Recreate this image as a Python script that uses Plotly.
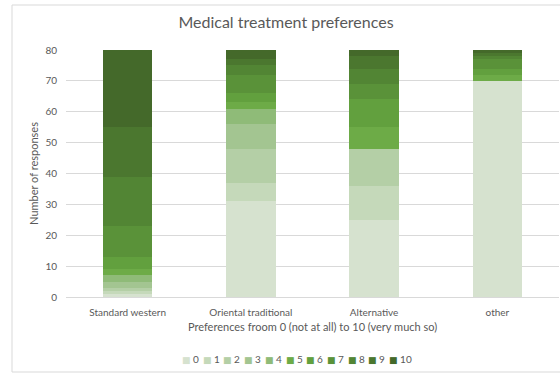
import plotly.graph_objects as go

categories = ["Standard western", "Oriental traditional", "Alternative", "other"]
levels = ["0", "1", "2", "3", "4", "5", "6", "7", "8", "9", "10"]

# counts per preference level (0..10) for each category
standard_western = [1, 1, 1, 2, 2, 2, 4, 10, 16, 16, 25]
oriental_traditional = [31, 6, 11, 8, 5, 2, 3, 6, 3, 2, 3]
alternative = [25, 11, 12, 0, 0, 7, 9, 5, 5, 4, 2]
other = [70, 0, 0, 0, 0, 2, 2, 3, 1, 1, 1]

colors = ["#d6e2cf", "#c5d9ba", "#b4cfa6", "#a3c591", "#8fbb78", "#6dab47",
          "#62a03e", "#5a9239", "#528534", "#4b772f", "#44692a"]

series_by_cat = [standard_western, oriental_traditional, alternative, other]

W, H = 560, 375
L, R, T, B = 66, 1, 50, 78
pw, ph = W - L - R, H - T - B
TXT = "#595959"
FONT = "Lato"

fig = go.Figure()
for i, lv in enumerate(levels):
    fig.add_trace(go.Bar(
        name=lv, x=categories, y=[s[i] for s in series_by_cat],
        marker=dict(color=colors[i], line=dict(width=0)),
        showlegend=False,
    ))

def px_x(x):
    return (x - L) / pw

def px_y(y):
    return (H - B - y) / ph

annotations = []
for i, lv in enumerate(levels):
    annotations.append(dict(
        xref="paper", yref="paper", x=px_x(180 + 20.7 * i), y=px_y(359),
        xanchor="left", yanchor="middle", showarrow=False,
        text=f"<span style='color:{colors[i]};font-family:DejaVu Sans;font-size:9px'>■</span> {lv}",
        font=dict(family=FONT, size=10, color=TXT),
    ))

fig.update_layout(
    width=W, height=H,
    margin=dict(l=L, r=R, t=T, b=B, autoexpand=False),
    paper_bgcolor="white", plot_bgcolor="white",
    barmode="stack", bargap=0.6,
    font=dict(family=FONT, size=10, color=TXT),
    title=dict(text="Medical treatment preferences", x=286 / W, xanchor="center",
               y=1 - 22 / H, yanchor="middle", yref="container",
               font=dict(family=FONT, size=16, color=TXT)),
    xaxis=dict(showgrid=False, showline=True, linecolor="#d9d9d9", linewidth=1,
               ticks="", ticklabelstandoff=6, automargin=False,
               tickfont=dict(size=10, color=TXT),
               title=dict(text="Preferences froom 0 (not at all) to 10 (very much so)",
                          standoff=6, font=dict(size=11, color=TXT))),
    yaxis=dict(range=[0, 80], dtick=10, showgrid=True, gridcolor="#d9d9d9",
               zeroline=False, showline=False, ticks="", ticklabelstandoff=8,
               automargin=False, tickfont=dict(size=10, color=TXT),
               title=dict(text="Number of responses", standoff=4,
                          font=dict(size=11, color=TXT))),
    annotations=annotations,
    shapes=[dict(type="rect", xref="paper", yref="paper",
                 x0=px_x(12), x1=px_x(563), y0=px_y(5), y1=px_y(372),
                 line=dict(color="#d9d9d9", width=1), layer="below")],
)

fig.write_html("out.html")
